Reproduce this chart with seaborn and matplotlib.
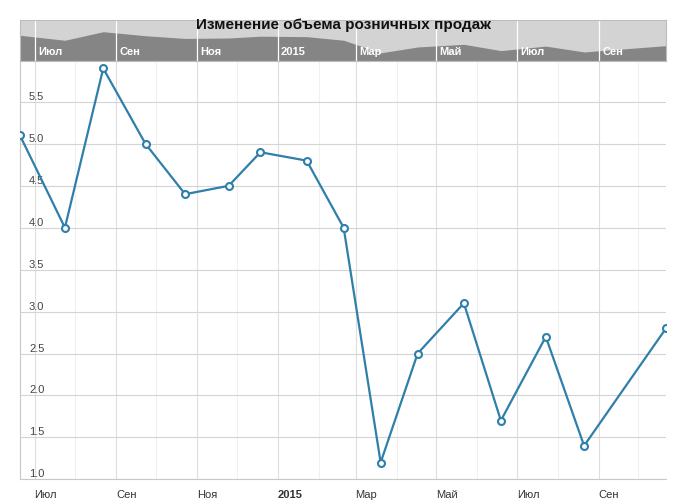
import pandas as pd
import numpy as np
import matplotlib
matplotlib.use("Agg")
import matplotlib.pyplot as plt
import matplotlib.dates as mdates
import seaborn as sns

# ==========================
# DATA
# ==========================
dates = ["2014-06-20", "2014-07-24", "2014-08-22", "2014-09-23", "2014-10-23",
         "2014-11-25", "2014-12-19", "2015-01-23", "2015-02-20", "2015-03-20",
         "2015-04-17", "2015-05-22", "2015-06-19", "2015-07-23", "2015-08-21",
         "2015-10-22"]
values = [5.1, 4.0, 5.9, 5.0, 4.4, 4.5, 4.9, 4.8, 4.0, 1.2, 2.5, 3.1, 1.7, 2.7, 1.4, 2.8]

tick_dates = ["2014-07-01", "2014-09-01", "2014-11-01", "2015-01-01",
              "2015-03-01", "2015-05-01", "2015-07-01", "2015-09-01"]
tick_labels = ["Июл", "Сен", "Ноя", "2015", "Мар", "Май", "Июл", "Сен"]
y_ticks = [1.0, 1.5, 2.0, 2.5, 3.0, 3.5, 4.0, 4.5, 5.0, 5.5]
title = "Изменение объема розничных продаж"

df = pd.DataFrame({"date": pd.to_datetime(dates), "value": values})
ticks = pd.to_datetime(tick_dates)

# ==========================
# STYLE
# ==========================
sns.set_style("white")
plt.rcParams["font.family"] = ["Liberation Sans", "DejaVu Sans"]

line_color = "#2f7fab"
fig = plt.figure(figsize=(6.86, 5.0), dpi=100)

# main chart
ax = fig.add_axes([20/686, 20.7/500, 646/686, 419.3/500])
sns.lineplot(data=df, x="date", y="value", ax=ax, color=line_color, linewidth=1.6,
             marker="o", markersize=5, markerfacecolor="white",
             markeredgecolor=line_color, markeredgewidth=1.5, zorder=5)

ax.set_xlim(df["date"].min(), df["date"].max())
ax.set_ylim(1.0, 6.0)
ax.set_xlabel("")
ax.set_ylabel("")

ax.set_xticks(ticks)
ax.set_xticklabels(tick_labels)
ax.xaxis.set_minor_locator(mdates.MonthLocator())
ax.tick_params(axis="x", which="major", length=5, width=0.8, color="#c0c0c0",
               labelsize=8, labelcolor="#333333", pad=3)
ax.tick_params(axis="x", which="minor", length=0)
for lbl in ax.get_xticklabels():
    lbl.set_ha("left")
    if lbl.get_text() == "2015":
        lbl.set_fontweight("bold")

ax.set_yticks(y_ticks)
ax.set_yticklabels([f"{v:.1f}" for v in y_ticks])
ax.tick_params(axis="y", length=0, labelsize=8, labelcolor="#444444", pad=-6.5)
for lbl in ax.get_yticklabels():
    lbl.set_ha("left")
    lbl.set_va("bottom")

ax.grid(axis="y", color="#d4d4d4", linewidth=0.8)
ax.grid(axis="x", which="major", color="#dedede", linewidth=0.8)
ax.grid(axis="x", which="minor", color="#f0f0f0", linewidth=0.8)
ax.set_axisbelow(True)
for s in ["top", "right"]:
    ax.spines[s].set_visible(False)
for s in ["left", "bottom"]:
    ax.spines[s].set_color("#c8c8c8")
    ax.spines[s].set_linewidth(0.8)

# navigator strip
nav = fig.add_axes([20/686, (500-60.5)/500, 646/686, 40.5/500])
nav.set_facecolor("#d3d3d3")
nav.fill_between(df["date"], values, -0.5, color="#858585", linewidth=0)
nav.set_xlim(df["date"].min(), df["date"].max())
nav.set_ylim(-0.5, 8.5)
nav.set_xticks([])
nav.set_yticks([])
for t in ticks:
    nav.axvline(t, color="white", linewidth=0.9)
for t, lab in zip(ticks, tick_labels):
    nav.annotate(lab, xy=(t, 0.22), xycoords=("data", "axes fraction"),
                 xytext=(2.5, 0), textcoords="offset points", ha="left", va="center",
                 color="white", fontsize=8, fontweight="bold")
for s in nav.spines.values():
    s.set_color("#bdbdbd")
    s.set_linewidth(0.8)

fig.text(0.5, 1 - 25/500, title, ha="center", va="center",
         fontsize=11, fontweight="bold", color="#111111")

fig.savefig("out.png", dpi=100)
